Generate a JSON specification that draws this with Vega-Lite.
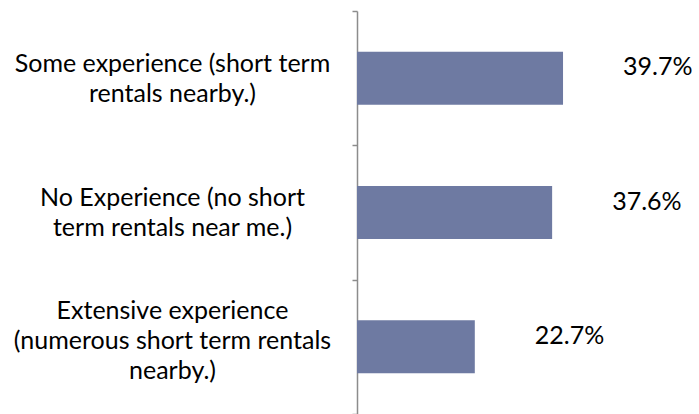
{
  "$schema": "https://vega.github.io/schema/vega-lite/v6.json",
  "width": 342,
  "height": 403,
  "autosize": {"type": "none"},
  "padding": {"left": 357, "top": 11, "right": 0, "bottom": 0},
  "background": "white",
  "config": {"view": {"stroke": null}, "font": "Lato"},
  "data": {
    "values": [
      {"category": "Some experience (short term|rentals nearby.)", "value": 0.397},
      {"category": "No Experience (no short|term rentals near me.)", "value": 0.376},
      {"category": "Extensive experience|(numerous short term rentals|nearby.)", "value": 0.227}
    ]
  },
  "encoding": {
    "y": {
      "field": "category",
      "type": "nominal",
      "sort": null,
      "scale": {"paddingInner": 0, "paddingOuter": 0},
      "axis": {
        "title": null,
        "tickBand": "extent",
        "domainColor": "#8c8c8c",
        "domainWidth": 1.5,
        "tickColor": "#8c8c8c",
        "tickWidth": 1.5,
        "tickSize": 5,
        "labelExpr": "split(datum.label, '|')",
        "labelAlign": "center",
        "labelBaseline": "middle",
        "labelPadding": 180,
        "labelOffset": {"condition": {"test": "length(split(datum.value, '|')) > 2", "value": -36}, "value": -15},
        "labelLimit": 0,
        "labelFontSize": 25,
        "labelColor": "black",
        "labelLineHeight": 30,
        "labelFont": "Lato",
        "encode": {
          "labels": {
            "update": {
              "dx": {"signal": "indexof(datum.value, 'No Exp') == 0 ? 24 : 0"}
            }
          }
        }
      }
    },
    "x": {
      "field": "value",
      "type": "quantitative",
      "scale": {"domain": [0, 0.659]},
      "axis": null
    }
  },
  "layer": [
    {
      "mark": {"type": "bar", "color": "#6e7aa2", "height": {"band": 0.395}}
    },
    {
      "mark": {"type": "text", "align": "left", "baseline": "middle", "dx": 60, "dy": -11, "fontSize": 25, "color": "black", "font": "Lato"},
      "encoding": {"text": {"field": "value", "type": "quantitative", "format": ".1%"}}
    }
  ]
}
